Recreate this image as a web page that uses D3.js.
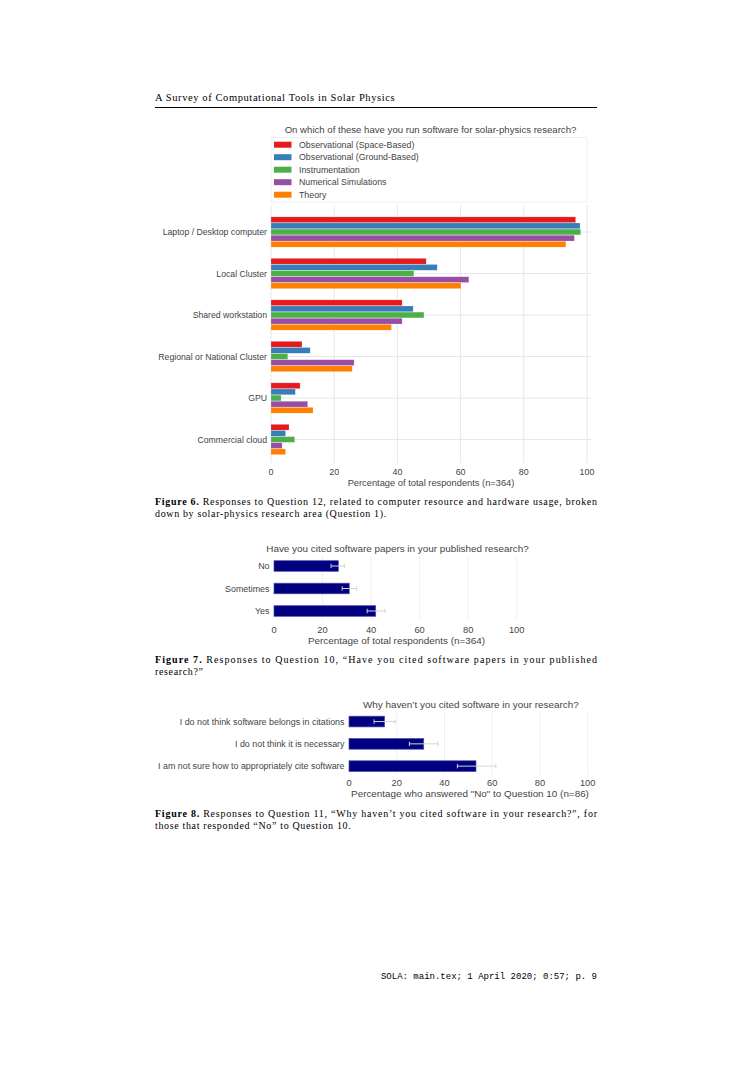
<!DOCTYPE html>
<html>
<head>
<meta charset="utf-8">
<script src="https://cdn.jsdelivr.net/npm/d3@7"></script>
<style>
html,body{margin:0;padding:0;background:#fff;}
svg{display:block;}
</style>
</head>
<body>
<script>
// ---------- DATA ----------
const fig6Categories = ["Laptop / Desktop computer","Local Cluster","Shared workstation","Regional or National Cluster","GPU","Commercial cloud"];
const fig6SeriesNames = ["Observational (Space-Based)","Observational (Ground-Based)","Instrumentation","Numerical Simulations","Theory"];
const fig6SpaceBased = [96.4,49.1,41.5,9.8,9.2,5.7];
const fig6GroundBased = [97.8,52.6,45.0,12.4,7.7,4.6];
const fig6Instrumentation = [98.0,45.2,48.4,5.3,3.2,7.5];
const fig6Simulations = [96.0,62.6,41.5,26.3,11.6,3.5];
const fig6Theory = [93.3,60.1,38.1,25.7,13.3,4.6];
const fig6Colors = ["#e41a1c","#377eb8","#4daf4a","#984ea3","#ff7f00"];
const xTicks = [0,20,40,60,80,100];

const fig7Categories = ["No","Sometimes","Yes"];
const fig7Values = [26.5,31.0,41.9];
const fig7ErrLow = [23.5,28.1,38.4];
const fig7ErrHigh = [29.0,34.1,45.7];

const fig8Categories = ["I do not think software belongs in citations","I do not think it is necessary","I am not sure how to appropriately cite software"];
const fig8Values = [14.9,31.3,53.2];
const fig8ErrLow = [10.5,25.3,45.4];
const fig8ErrHigh = [19.3,37.3,61.5];

// ---------- DRAW ----------
const W = 752, H = 1065;
const svg = d3.select("body").append("svg").attr("width", W).attr("height", H);
svg.append("rect").attr("width", W).attr("height", H).attr("fill", "#fff");

const sans = "'Liberation Sans', Arial, sans-serif";
const serif = "'Liberation Serif', 'Times New Roman', serif";
const mono = "'Liberation Mono', monospace";
const txt = "#444";

// page header
svg.append("text").attr("x",155).attr("y",101).attr("font-family",serif).attr("font-size",10.5)
  .attr("fill","#000").attr("letter-spacing",0.4).attr("textLength",240).attr("lengthAdjust","spacing")
  .text("A Survey of Computational Tools in Solar Physics");
svg.append("line").attr("x1",155).attr("x2",597).attr("y1",107.5).attr("y2",107.5).attr("stroke","#000").attr("stroke-width",1);

// ---------- Figure 6 ----------
{
  const g = svg.append("g");
  const x = d3.scaleLinear().domain([0,100]).range([271,587]);
  const plotL = 271, plotR = 591, plotT = 205, plotB = 463;
  const y = d3.scaleBand().domain(fig6Categories).range([211.25,460.25]).padding(0);
  const sub = d3.scaleBand().domain(fig6SeriesNames).range([-15.5,15.5]).padding(0.06);
  const series = [fig6SpaceBased, fig6GroundBased, fig6Instrumentation, fig6Simulations, fig6Theory];

  g.selectAll(".vg").data(xTicks).join("line")
    .attr("x1",d=>x(d)).attr("x2",d=>x(d)).attr("y1",plotT).attr("y2",plotB)
    .attr("stroke","#e6e6e6").attr("stroke-width",1);
  g.selectAll(".hg").data(fig6Categories).join("line")
    .attr("x1",plotL).attr("x2",plotR)
    .attr("y1",d=>y(d)+y.bandwidth()/2).attr("y2",d=>y(d)+y.bandwidth()/2)
    .attr("stroke","#e6e6e6").attr("stroke-width",1);

  series.forEach((vals,si)=>{
    g.append("g").selectAll("rect").data(vals).join("rect")
      .attr("x",x(0))
      .attr("y",(d,i)=>y(fig6Categories[i])+y.bandwidth()/2+sub(fig6SeriesNames[si]))
      .attr("width",d=>x(d)-x(0))
      .attr("height",sub.bandwidth())
      .attr("fill",fig6Colors[si])
      .attr("stroke","#fff").attr("stroke-opacity",0.35).attr("stroke-width",0.5);
  });

  g.selectAll(".cl").data(fig6Categories).join("text")
    .attr("x",267).attr("y",d=>y(d)+y.bandwidth()/2).attr("dy","0.35em")
    .attr("text-anchor","end").attr("font-family",sans).attr("font-size",8.7).attr("fill",txt)
    .text(d=>d);

  g.selectAll(".tl").data(xTicks).join("text")
    .attr("x",d=>x(d)).attr("y",472).attr("dy","0.35em").attr("text-anchor","middle")
    .attr("font-family",sans).attr("font-size",8.9).attr("fill",txt).text(d=>d);
  g.append("text").attr("x",431).attr("y",483).attr("dy","0.35em").attr("text-anchor","middle")
    .attr("font-family",sans).attr("font-size",9.3).attr("fill",txt)
    .text("Percentage of total respondents (n=364)");

  g.append("text").attr("x",430.5).attr("y",130).attr("dy","0.35em").attr("text-anchor","middle")
    .attr("font-family",sans).attr("font-size",9.6).attr("fill",txt)
    .text("On which of these have you run software for solar-physics research?");

  g.append("rect").attr("x",271).attr("y",137.5).attr("width",316).attr("height",64.5)
    .attr("fill","#fff").attr("stroke","#ececec").attr("stroke-width",0.8);
  const ly = d3.scalePoint().domain(fig6SeriesNames).range([144.7,194.7]);
  const lg = g.append("g").selectAll("g").data(fig6SeriesNames).join("g");
  lg.append("rect").attr("x",274).attr("y",d=>ly(d)-3).attr("width",17.5).attr("height",6)
    .attr("fill",(d,i)=>fig6Colors[i]);
  lg.append("text").attr("x",299).attr("y",d=>ly(d)).attr("dy","0.35em")
    .attr("font-family",sans).attr("font-size",8.8).attr("fill",txt).text(d=>d);
}

// ---------- single bar chart with error bars ----------
function errChart(cfg){
  const g = svg.append("g");
  const x = d3.scaleLinear().domain([0,100]).range([cfg.x0,cfg.x100]);
  const y = d3.scaleBand().domain(cfg.cats).range([cfg.yTop,cfg.yBot]).paddingInner(cfg.pad).paddingOuter(cfg.pad/2);
  g.selectAll(".vg").data(xTicks.slice(1)).join("line")
    .attr("x1",d=>x(d)).attr("x2",d=>x(d)).attr("y1",cfg.gT).attr("y2",cfg.gB)
    .attr("stroke","#f0f0f0").attr("stroke-width",1);
  g.selectAll(".bar").data(cfg.vals).join("rect")
    .attr("x",x(0)).attr("y",(d,i)=>y(cfg.cats[i])).attr("width",d=>x(d)-x(0)).attr("height",y.bandwidth())
    .attr("fill","#000080").attr("stroke","#4a4aa8").attr("stroke-width",0.7);
  const eb = g.selectAll(".eb").data(cfg.vals).join("g");
  const cy = (i)=>y(cfg.cats[i])+y.bandwidth()/2;
  eb.append("line").attr("x1",(d,i)=>x(cfg.lo[i])).attr("x2",(d,i)=>x(cfg.hi[i]))
    .attr("y1",(d,i)=>cy(i)).attr("y2",(d,i)=>cy(i)).attr("stroke","#d4d4d4").attr("stroke-width",1);
  eb.append("line").attr("x1",(d,i)=>x(cfg.lo[i])).attr("x2",(d,i)=>x(cfg.lo[i]))
    .attr("y1",(d,i)=>cy(i)-2.2).attr("y2",(d,i)=>cy(i)+2.2).attr("stroke","#d4d4d4").attr("stroke-width",1);
  eb.append("line").attr("x1",(d,i)=>x(cfg.hi[i])).attr("x2",(d,i)=>x(cfg.hi[i]))
    .attr("y1",(d,i)=>cy(i)-2.2).attr("y2",(d,i)=>cy(i)+2.2).attr("stroke","#d4d4d4").attr("stroke-width",1);
  g.selectAll(".cl").data(cfg.cats).join("text")
    .attr("x",cfg.x0-4.5).attr("y",d=>y(d)+y.bandwidth()/2).attr("dy","0.35em")
    .attr("text-anchor","end").attr("font-family",sans).attr("font-size",cfg.fs).attr("fill",txt).text(d=>d);
  g.selectAll(".tl").data(xTicks).join("text")
    .attr("x",d=>x(d)).attr("y",cfg.tickY).attr("dy","0.35em").attr("text-anchor","middle")
    .attr("font-family",sans).attr("font-size",9.3).attr("fill",txt).text(d=>d);
  g.append("text").attr("x",cfg.axCx).attr("y",cfg.axY).attr("dy","0.35em").attr("text-anchor","middle")
    .attr("font-family",sans).attr("font-size",9.9).attr("fill",txt).text(cfg.axTitle);
  g.append("text").attr("x",cfg.tCx).attr("y",cfg.tY).attr("dy","0.35em").attr("text-anchor","middle")
    .attr("font-family",sans).attr("font-size",9.9).attr("fill",txt).text(cfg.title);
}

errChart({cats:fig7Categories, vals:fig7Values, lo:fig7ErrLow, hi:fig7ErrHigh,
  x0:274, x100:516.7, yTop:554.75, yBot:622.25, pad:0.53, gT:556, gB:620, fs:8.9,
  tickY:629.5, axY:641, axCx:396.5, axTitle:"Percentage of total respondents (n=364)",
  tCx:397.5, tY:549, title:"Have you cited software papers in your published research?"});

errChart({cats:fig8Categories, vals:fig8Values, lo:fig8ErrLow, hi:fig8ErrHigh,
  x0:349, x100:587.7, yTop:710.4, yBot:777.3, pad:0.52, gT:711, gB:775, fs:8.9,
  tickY:782.5, axY:794, axCx:470, axTitle:"Percentage who answered \"No\" to Question 10 (n=86)",
  tCx:470.8, tY:705, title:"Why haven\u2019t you cited software in your research?"});

// ---------- captions ----------
function caption(y1, bold, rest1, line2){
  const t = svg.append("text").attr("x",155).attr("y",y1).attr("font-family",serif).attr("font-size",10).attr("fill","#000")
    .attr("textLength",442).attr("lengthAdjust","spacing");
  t.append("tspan").attr("font-weight","bold").text(bold);
  t.append("tspan").text(rest1);
  svg.append("text").attr("x",155).attr("y",y1+12).attr("font-family",serif).attr("font-size",10)
    .attr("letter-spacing",0.65).attr("fill","#000").text(line2);
}
caption(505, "Figure 6.", "  Responses to Question 12, related to computer resource and hardware usage, broken",
  "down by solar-physics research area (Question 1).");
caption(663, "Figure 7.", "  Responses to Question 10, \u201CHave you cited software papers in your published",
  "research?\u201D");
caption(817, "Figure 8.", "  Responses to Question 11, \u201CWhy haven\u2019t you cited software in your research?\u201D, for",
  "those that responded \u201CNo\u201D to Question 10.");

// footer
svg.append("text").attr("x",597).attr("y",979).attr("text-anchor","end").attr("font-family",mono)
  .attr("font-size",9).attr("fill","#000").text("SOLA: main.tex; 1 April 2020; 0:57; p. 9");
</script>
</body>
</html>
